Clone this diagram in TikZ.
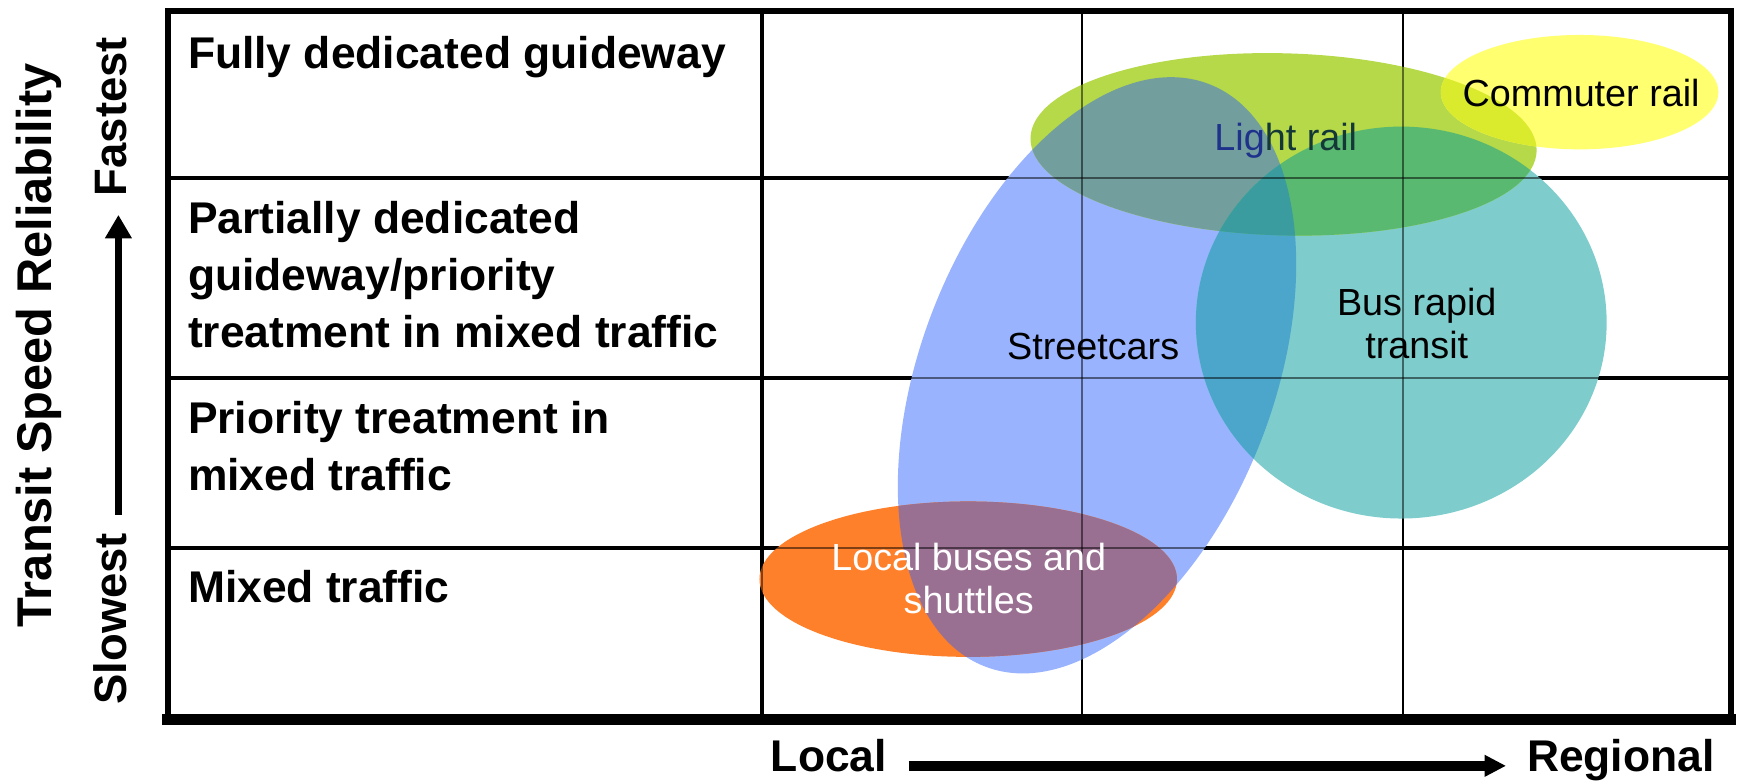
\documentclass[tikz,border=0pt]{standalone}
\usepackage{fontspec}
\setmainfont{Liberation Sans}
\usetikzlibrary{arrows.meta}
\definecolor{cBlue}{RGB}{153,179,255}
\definecolor{cTeal}{RGB}{126,204,204}
\definecolor{cGreen}{RGB}{181,217,72}
\definecolor{cYellow}{RGB}{255,255,112}
\definecolor{cOrange}{RGB}{255,128,43}
\definecolor{cBG}{RGB}{114,158,158}
\definecolor{cBT}{RGB}{76,166,204}
\definecolor{cGT}{RGB}{90,185,112}
\definecolor{cBGT}{RGB}{58,156,158}
\definecolor{cGY}{RGB}{218,234,44}
\definecolor{cBO}{RGB}{154,112,146}
\definecolor{cNavy}{RGB}{30,50,140}
\definecolor{cDark}{RGB}{20,55,55}
\begin{document}
\begin{tikzpicture}[x=0.02cm,y=-0.02cm,
  rowlabel/.style={anchor=north west,inner sep=0pt,align=left,font=\fontsize{22.76pt}{29.3pt}\selectfont\bfseries},
  ellabel/.style={inner sep=0pt,align=center,font=\fontsize{19.35pt}{21.9pt}\selectfont},
  axlabel/.style={inner sep=0pt,anchor=base west,font=\fontsize{22.76pt}{26pt}\selectfont\bfseries,text height=0.6em,text depth=0pt},
  vlabel/.style={inner sep=0pt,rotate=90,anchor=base west,font=\fontsize{23.3pt}{26pt}\selectfont\bfseries,text height=0.78em,text depth=0pt},
  gridthick/.style={line width=2pt},
  gridthin/.style={line width=1.1pt},
  seethrough/.style={black,opacity=0.5,line width=0.9pt},
  harrow/.style={line width=4.8pt,-{Triangle[length=11pt,width=10.5pt]}},
  varrow/.style={line width=3.4pt,-{Triangle[length=12pt,width=13pt]}},
  eBlue/.style={rotate around={-21:(988,338)}},
  eGreen/.style={rotate around={-1.5:(1156,130)}},
]
\useasboundingbox (0,0) rectangle (1568,705.2);

% grid and frame
\draw[gridthick] (151,160.6) -- (1559,160.6);
\draw[gridthick] (151,340.5) -- (1559,340.5);
\draw[gridthick] (151,493.6) -- (1559,493.6);
\draw[gridthick] (686,10) -- (686,648);
\draw[gridthin] (974.2,10) -- (974.2,648);
\draw[gridthin] (1263.7,10) -- (1263.7,648);
\draw[line width=3.2pt,line cap=rect] (151,648) -- (151,10) -- (1559,10) -- (1559,648);
\draw[line width=5.6pt,line cap=rect] (151,648) -- (1559,648);

% ellipses (full)
\fill[cBlue,eBlue] (988,338) ellipse [x radius=159,y radius=281];
\fill[cTeal] (1262,290.5) ellipse [x radius=185,y radius=176.5];
\fill[cGreen,eGreen] (1156,130) ellipse [x radius=228,y radius=82];
\fill[cYellow] (1422.6,83) ellipse [x radius=125,y radius=51.5];
\fill[cOrange] (872,521.6) ellipse [x radius=188,y radius=70];

% overlaps
\begin{scope}
  \clip[eBlue] (988,338) ellipse [x radius=159,y radius=281];
  \fill[cBG,eGreen] (1156,130) ellipse [x radius=228,y radius=82];
\end{scope}
\begin{scope}
  \clip[eBlue] (988,338) ellipse [x radius=159,y radius=281];
  \fill[cBT] (1262,290.5) ellipse [x radius=185,y radius=176.5];
\end{scope}
\begin{scope}
  \clip[eGreen] (1156,130) ellipse [x radius=228,y radius=82];
  \fill[cGY] (1422.6,83) ellipse [x radius=125,y radius=51.5];
\end{scope}
\begin{scope}
  \clip[eGreen] (1156,130) ellipse [x radius=228,y radius=82];
  \fill[cGT] (1262,290.5) ellipse [x radius=185,y radius=176.5];
\end{scope}
\begin{scope}
  \clip[eGreen] (1156,130) ellipse [x radius=228,y radius=82];
  \clip (1262,290.5) ellipse [x radius=185,y radius=176.5];
  \fill[cBGT,eBlue] (988,338) ellipse [x radius=159,y radius=281];
\end{scope}
\begin{scope}
  \clip[eBlue] (988,338) ellipse [x radius=159,y radius=281];
  \fill[cBO] (872,521.6) ellipse [x radius=188,y radius=70];
\end{scope}

% grid lines seen through the shapes
\draw[seethrough] (151,160.6) -- (1559,160.6);
\draw[seethrough] (151,340.5) -- (1559,340.5);
\draw[seethrough] (151,493.6) -- (1559,493.6);
\draw[seethrough] (686,10) -- (686,648);
\draw[seethrough] (974.2,10) -- (974.2,648);
\draw[seethrough] (1263.7,10) -- (1263.7,648);

% row labels
\node[rowlabel] (r1) at (169,32.5) {Fully dedicated guideway};
\node[rowlabel] (r2) at (169,181) {Partially dedicated\\guideway/priority\\treatment in mixed traffic};
\node[rowlabel] (r3) at (169,361) {Priority treatment in\\mixed traffic};
\node[rowlabel] (r4) at (169,513) {Mixed traffic};

% ellipse labels
\node[ellabel,anchor=base] (commuter) at (1424,95.5) {Commuter rail};
\node[ellabel,anchor=base] (light) at (1158,135.7) {{\color{cNavy}Lig}{\color{cDark}ht rail}};
\node[ellabel,anchor=north] (brt) at (1276,259.3) {Bus rapid\\transit};
\node[ellabel,anchor=base] (street) at (984.5,324) {Streetcars};
\node[ellabel,anchor=north,text=white] (localbus) at (872.5,489) {Local buses and\\shuttles};

% axes
\node[inner sep=0pt,rotate=90,anchor=base,font=\fontsize{25pt}{28pt}\selectfont\bfseries] (title) at (46.5,311) {Transit Speed Reliability};
\node[vlabel] (fastest) at (113.5,177) {Fastest};
\node[vlabel] (slowest) at (113.5,635) {Slowest};
\draw[varrow,shorten <=9.1pt,shorten >=9.4pt] (slowest.east) -- (fastest.west);

\node[axlabel] (local) at (694,695) {Local};
\node[axlabel] (regional) at (1375,695) {Regional};
\draw[harrow,shorten <=11.1pt,shorten >=10.6pt] (local.east) -- (regional.west);
\end{tikzpicture}
\end{document}
